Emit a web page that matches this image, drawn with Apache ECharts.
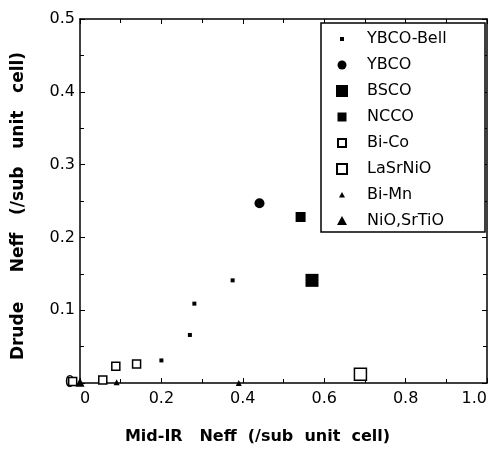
<!DOCTYPE html>
<html>
<head>
<meta charset="utf-8">
<style>
  html, body { margin: 0; padding: 0; background: #fff; }
  .chart { width: 503px; height: 454px; }
</style>
</head>
<body>
<div class="chart"></div>
<script src="https://cdn.jsdelivr.net/npm/echarts@6/dist/echarts.min.js"></script>
<script>
// values, each point is [Mid-IR Neff, Drude Neff]
var ybcoBell = [[0.200, 0.031], [0.270, 0.066], [0.281, 0.109], [0.375, 0.141]];
var ybco = [[0.441, 0.247]];
var bsco = [[0.570, 0.141]];
var ncco = [[0.542, 0.228]];
var biCo = [[-0.018, 0.002], [0.056, 0.004], [0.088, 0.023], [0.139, 0.026]];
var laSrNiO = [[0.689, 0.012]];
var biMn = [[0.090, 0.001], [0.390, 0.000]];
var nioSrTiO = [[0.000, 0.001]];

var seriesNames = ["YBCO-Bell", "YBCO", "BSCO", "NCCO", "Bi-Co", "LaSrNiO", "Bi-Mn", "NiO,SrTiO"];
var xTickLabels = ["0", "0.2", "0.4", "0.6", "0.8", "1.0"];
var yTickLabels = ["0", "0.1", "0.2", "0.3", "0.4", "0.5"];

(function () {
  var myChart = echarts.init(document.querySelector(".chart"));

  var font = "DejaVu Sans";
  // legend icons: 40x14 box (corner points only set the bounds), shape in the middle
  var box = "M0 0L0 0M40 14L40 14";
  var legendIcons = [
    box + "M18 5H22V9H18Z",
    box + "M15.5 7A4.5 4.5 0 1 0 24.5 7A4.5 4.5 0 1 0 15.5 7Z",
    box + "M14 1H26V13H14Z",
    box + "M15.5 2.5H24.5V11.5H15.5Z",
    box + "M16 3H24V11H16Z",
    box + "M15 2H25V12H15Z",
    box + "M20 4L23 9.5H17Z",
    box + "M20 2L25 11H15Z"
  ];

  var solid = { color: "#000", opacity: 1 };
  var open = { color: "#fff", borderColor: "#000", borderWidth: 1.5, opacity: 1 };

  function scatter (name, data, symbol, size, style) {
    return {
      name: name,
      type: "scatter",
      data: data,
      symbol: symbol,
      symbolSize: size,
      clip: false,
      itemStyle: style
    };
  }

  var tick = { inside: true, length: 5, lineStyle: { color: "#000", width: 1 } };
  var minor = { show: true, splitNumber: 2, length: 4, lineStyle: { color: "#000", width: 1 } };
  var line = { onZero: false, lineStyle: { color: "#000", width: 1.5 } };
  var labelStyle = { fontFamily: font, fontSize: 16, color: "#000" };
  var nameStyle = { fontFamily: font, fontSize: 16, fontWeight: "bold", color: "#000" };

  var option = {
    animation: false,
    backgroundColor: "#fff",
    grid: {
      left: 80,
      right: 16,
      top: 19,
      bottom: 71,
      outerBoundsMode: "none"
    },
    legend: {
      orient: "vertical",
      left: 321,
      top: 23,
      padding: [8, 0, 3, 0],
      itemWidth: 40,
      itemHeight: 14,
      itemGap: 10,
      borderColor: "#000",
      borderWidth: 1.5,
      backgroundColor: "#fff",
      selectedMode: false,
      textStyle: { fontFamily: font, fontSize: 16, lineHeight: 16, color: "#000", width: 118 },
      data: seriesNames.map(function (n, i) {
        return { name: n, icon: "path://" + legendIcons[i] };
      })
    },
    xAxis: [{
      type: "value",
      min: 0,
      max: 1,
      interval: 0.2,
      position: "bottom",
      name: "Mid-IR   Neff  (/sub  unit  cell)",
      nameLocation: "middle",
      nameGap: 46,
      nameMoveOverlap: false,
      nameTextStyle: Object.assign({ padding: [0, 52, 0, 0] }, nameStyle),
      axisLine: line,
      axisTick: tick,
      minorTick: minor,
      splitLine: { show: false },
      axisLabel: Object.assign({
        margin: 8,
        alignMinLabel: "left",
        alignMaxLabel: "right",
        formatter: function (v) { return xTickLabels[Math.round(v / 0.2)]; }
      }, labelStyle)
    }, {
      type: "value",
      min: 0,
      max: 1,
      interval: 0.2,
      position: "top",
      axisLine: line,
      axisTick: tick,
      minorTick: minor,
      splitLine: { show: false },
      axisLabel: { show: false }
    }],
    yAxis: [{
      type: "value",
      min: 0,
      max: 0.5,
      interval: 0.1,
      position: "left",
      name: "Drude     Neff   (/sub   unit   cell)",
      nameLocation: "middle",
      nameGap: 53,
      nameMoveOverlap: false,
      nameTextStyle: Object.assign({}, nameStyle, { fontSize: 17, padding: [0, 10, 0, 0] }),
      axisLine: line,
      axisTick: tick,
      minorTick: minor,
      splitLine: { show: false },
      axisLabel: Object.assign({
        margin: 5,
        formatter: function (v) { return yTickLabels[Math.round(v / 0.1)]; }
      }, labelStyle)
    }, {
      type: "value",
      min: 0,
      max: 0.5,
      interval: 0.1,
      position: "right",
      axisLine: line,
      axisTick: tick,
      minorTick: minor,
      splitLine: { show: false },
      axisLabel: { show: false }
    }],
    series: [
      scatter("YBCO-Bell", ybcoBell, "rect", 4, solid),
      scatter("YBCO", ybco, "circle", 10, solid),
      scatter("BSCO", bsco, "rect", 13, solid),
      scatter("NCCO", ncco, "rect", 10, solid),
      scatter("Bi-Co", biCo, "rect", 8, open),
      scatter("LaSrNiO", laSrNiO, "rect", 12, open),
      scatter("Bi-Mn", biMn, "triangle", 6, solid),
      scatter("NiO,SrTiO", nioSrTiO, "triangle", 9, solid)
    ]
  };

  myChart.setOption(option);
  window.addEventListener("resize", function () {
    myChart.resize();
  });
})();
</script>
</body>
</html>
